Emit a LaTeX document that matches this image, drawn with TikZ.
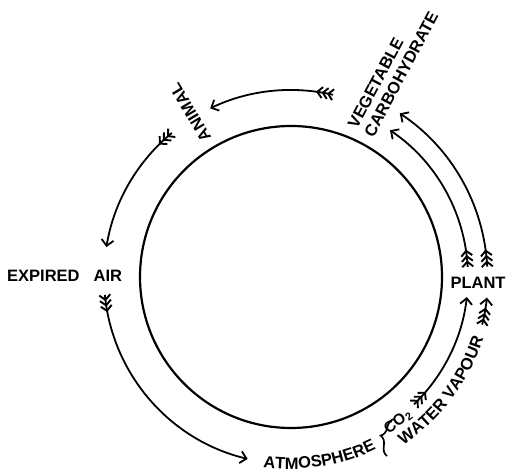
\documentclass[tikz,border=0pt]{standalone}
\usepackage{fontspec}
\setmainfont{Liberation Sans}
\usetikzlibrary{arrows.meta,calc,decorations.markings,decorations.text,decorations.pathreplacing}
\newcommand\lettr{\fontsize{16.5}{18.5}\selectfont\bfseries}
\newcommand\smlettr{\fontsize{15.5}{17}\selectfont\bfseries}
\begin{document}
\begin{tikzpicture}[x=1pt,y=1pt,
  ring/.style={line width=2.2pt},
  flow/.style={line width=1.8pt,-{Straight Barb[length=6pt,width=12pt,line width=1.8pt]}},
  chev/.style={line width=1.9pt,line join=miter},
  fletched/.style={postaction={decorate},decoration={markings,
    mark=at position 5pt with {\draw[-,chev] (-5pt,5.5pt)--(0,0)--(-5pt,-5.5pt);},
    mark=at position 10.5pt with {\draw[-,chev] (-5pt,5.5pt)--(0,0)--(-5pt,-5.5pt);},
    mark=at position 16pt with {\draw[-,chev] (-5pt,5.5pt)--(0,0)--(-5pt,-5.5pt);}}},
  lab/.style={font=\lettr,inner sep=0pt},
  curvelab/.style={decorate,decoration={text along path,text align=center,text={#1}}}
]
\useasboundingbox (0,0) rectangle (508,473);
\coordinate (C) at (291,196);
\draw[ring] (C) circle[radius=151pt];

% arrow tails (named coordinates)
\coordinate (t1) at ($(C)+(77:187pt)$);
\coordinate (t2) at ($(C)+(129.6:187pt)$);
\coordinate (t3) at ($(C)+(185.5:187pt)$);
\coordinate (t4) at ($(C)+(314:177pt)$);
\coordinate (t5) at ($(C)+(346:197pt)$);
\coordinate (t6) at ($(C)+(3.3:177pt)$);
\coordinate (t7) at ($(C)+(3:196.5pt)$);

\draw[flow,fletched] (t1) arc[start angle=77,end angle=115.6,radius=187pt];
\draw[flow,fletched] (t2) arc[start angle=129.6,end angle=170.8,radius=187pt];
\draw[flow,fletched] (t3) arc[start angle=185.5,end angle=256.6,radius=187pt];
\draw[flow,fletched] (t4) arc[start angle=314,end angle=353.5,radius=177pt];
\draw[flow,fletched] (t5) arc[start angle=346,end angle=354,radius=197pt];
\draw[flow,fletched] (t6) arc[start angle=3.3,end angle=56,radius=177pt];
\draw[flow,fletched] (t7) arc[start angle=3,end angle=56.4,radius=196.5pt];

% labels
\node[lab] (plant) at (478,190) {PLANT};
\node[lab,anchor=west] (expired) at (7,197) {EXPIRED\hspace{14pt}AIR};
\node[lab,rotate=121] (animal) at ($(C)+(121.5:193pt)$) {ANIMAL};
\node[lab,rotate=62,align=left] (veg) at (393,403) {VEGETABLE\\CARBOHYDRATE};
\node[font=\smlettr,inner sep=0pt,rotate=38] (co2) at ($(C)+(306.5:180pt)$) {CO\textsubscript{2}};

\coordinate (a0) at ($(C)+(258:192pt)$);
\path[curvelab={|\lettr|ATMOSPHERE}] (a0) arc[start angle=258,end angle=300,radius=192pt];
\coordinate (w0) at ($(C)+(298:202pt)$);
\path[curvelab={|\lettr|WATER VAPOUR}] (w0) arc[start angle=298,end angle=348,radius=202pt];

\coordinate (brB) at (387,17);
\coordinate (brT) at (394,54);
\draw[line width=1.7pt,decorate,decoration={brace,amplitude=10pt}] (brB) -- (brT);
\end{tikzpicture}
\end{document}
